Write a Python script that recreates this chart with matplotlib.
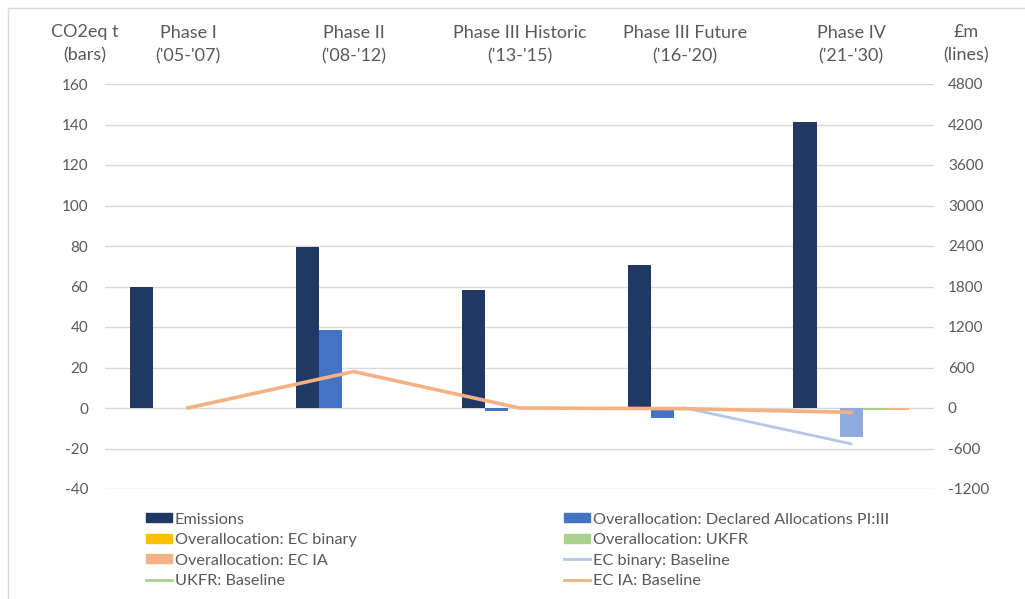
import numpy as np
import matplotlib.pyplot as plt
from matplotlib.patches import Patch
from matplotlib.lines import Line2D

plt.rcParams['font.family'] = ['Lato', 'DejaVu Sans']
plt.rcParams['axes.unicode_minus'] = False

# Categories
phases = ["Phase I\n('05-'07)", "Phase II\n('08-'12)", "Phase III Historic\n('13-'15)",
          "Phase III Future\n('16-'20)", "Phase IV\n('21-'30)"]

# Bar series (CO2eq t)
emissions = [60, 79.5, 58.5, 70.5, 141]
declared = [0, 38.5, -1.5, -5, 0]
ec_binary = [0, 0, 0, 0, -14.3]
ukfr = [0, 0, 0, 0, -0.8]
ec_ia = [0, 0, 0, 0, -0.8]

# Line series (£m)
ec_binary_base = [np.nan, np.nan, np.nan, 0, -530]
ukfr_base = [np.nan, np.nan, np.nan, np.nan, -20]
ec_ia_base = [0, 540, 0, -10, -65]

left_ticks = np.arange(-40, 161, 20)
right_ticks = np.arange(-1200, 4801, 600)

gray = '#595959'
c_em = '#203864'
c_dec = '#4472C4'
c_bin = '#FFC000'
c_ukfr = '#A9D18E'
c_ia = '#F4B183'
c_binline = '#B4C7E7'

fig = plt.figure(figsize=(10.25, 5.99), dpi=100)
ax = fig.add_axes([105 / 1025, 1 - 489 / 599, (934 - 105) / 1025, (489 - 84) / 599])

x = np.arange(len(phases))
w = 0.139
ax.bar(x - 2 * w, emissions, w, color=c_em, zorder=3)
ax.bar(x - w, declared, w, color=c_dec, zorder=3)
ax.bar(x, ec_binary, w, color=[c_bin, c_bin, c_bin, c_bin, '#8FAADC'], zorder=3)
ax.bar(x + w, ukfr, w, color=c_ukfr, zorder=3)
ax.bar(x + 2 * w, ec_ia, w, color=c_ia, zorder=3)

ax.set_xlim(-0.5, len(phases) - 0.5)
ax.set_ylim(-40, 160)
ax.set_yticks(left_ticks)
ax.grid(axis='y', color='#D9D9D9', linewidth=1, zorder=0)
ax.set_axisbelow(True)
for s in ax.spines.values():
    s.set_visible(False)
ax.tick_params(axis='y', length=0, pad=12, labelcolor=gray, labelsize=11)
ax.xaxis.tick_top()
ax.set_xticks(x)
ax.set_xticklabels(phases, fontsize=13, color=gray, linespacing=1.55)
ax.tick_params(axis='x', length=0, pad=14)

ax2 = ax.twinx()
ax2.plot(x, ec_binary_base, color=c_binline, linewidth=2)
ax2.plot(x, ukfr_base, color=c_ukfr, linewidth=2)
ax2.plot(x, ec_ia_base, color=c_ia, linewidth=2.6)
ax2.set_ylim(-1200, 4800)
ax2.set_yticks(right_ticks)
for s in ax2.spines.values():
    s.set_visible(False)
ax2.tick_params(axis='y', length=0, pad=10, labelcolor=gray, labelsize=11)

fig.text(85 / 1025, 1 - 44 / 599, "CO2eq t\n(bars)", ha='center', va='center',
         fontsize=13, color=gray, linespacing=1.55)
fig.text(966 / 1025, 1 - 44 / 599, "£m\n(lines)", ha='center', va='center',
         fontsize=13, color=gray, linespacing=1.55)

# legend: two columns placed separately
col1 = [Patch(color=c_em, label='Emissions'),
        Patch(color=c_bin, label='Overallocation: EC binary'),
        Patch(color=c_ia, label='Overallocation: EC IA'),
        Line2D([], [], color=c_ukfr, linewidth=2, label='UKFR: Baseline')]
col2 = [Patch(color=c_dec, label='Overallocation: Declared Allocations PI:III'),
        Patch(color=c_ukfr, label='Overallocation: UKFR'),
        Line2D([], [], color=c_binline, linewidth=2, label='EC binary: Baseline'),
        Line2D([], [], color=c_ia, linewidth=2, label='EC IA: Baseline')]
leg_kw = dict(frameon=False, fontsize=11.7, handlelength=1.6, handleheight=0.5,
              handletextpad=0.2, labelspacing=0.4, labelcolor=gray, loc='upper left')
fig.legend(handles=col1, bbox_to_anchor=(131 / 1025, 1 - 498 / 599), **leg_kw)
fig.legend(handles=col2, bbox_to_anchor=(549 / 1025, 1 - 498 / 599), **leg_kw)

# outer chart border
fig.add_artist(plt.Line2D([8 / 1025, 8 / 1025], [0, 1 - 8 / 599], transform=fig.transFigure,
                          color='#D9D9D9', linewidth=1))
fig.add_artist(plt.Line2D([8 / 1025, 1], [1 - 8 / 599, 1 - 8 / 599], transform=fig.transFigure,
                          color='#D9D9D9', linewidth=1))

fig.savefig('out.png', dpi=100)
